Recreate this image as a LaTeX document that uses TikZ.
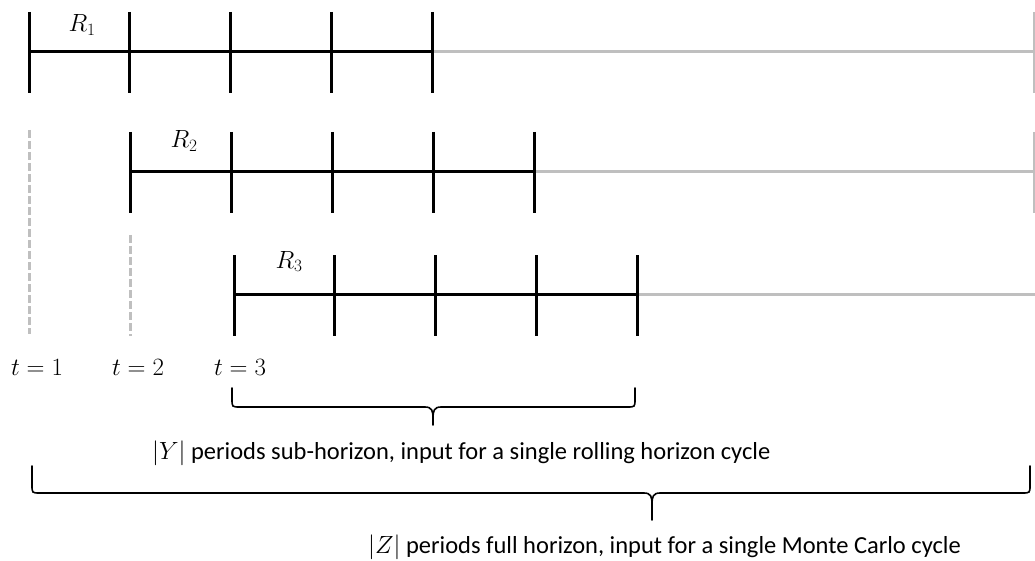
\documentclass[tikz,border=0pt]{standalone}
\usepackage{fontspec}
\setmainfont{Carlito}
\definecolor{restgray}{RGB}{191,191,191}
\begin{document}
\begin{tikzpicture}[x=1pt,y=-1pt,
  bar/.style={line width=3pt, black},
  rest/.style={line width=3pt, restgray},
  tickmark/.style={line width=3pt, black},
  endtick/.style={line width=1.5pt, restgray},
  guide/.style={line width=3pt, restgray, dash pattern=on 8pt off 3pt},
  brace/.style={line width=1.6pt, black, line cap=round},
  lbl/.style={font=\fontsize{24.5}{29}\selectfont, inner sep=0pt, anchor=base},
  mlbl/.style={font=\fontsize{25}{30}\selectfont, inner sep=0pt, anchor=base}]
\useasboundingbox (0,0) rectangle (1035,561);

% row 1
\draw[rest] (432,52) -- (1034,52);
\draw[endtick] (1034,12) -- (1034,93);
\draw[bar] (29,52) -- (432,52);
\foreach \x in {29,129.75,230.5,331.25,432} \draw[tickmark] (\x,12) -- (\x,93);
\node[mlbl] (r1) at (82,32) {$R_1$};

% row 2
\draw[guide] (29,130) -- (29,334);
\draw[rest] (534,172) -- (1034,172);
\draw[endtick] (1034,132) -- (1034,213);
\draw[bar] (130,172) -- (534,172);
\foreach \x in {130,231,332,433,534} \draw[tickmark] (\x,132) -- (\x,213);
\node[mlbl] (r2) at (184,148) {$R_2$};

% row 3
\draw[guide] (130,235) -- (130,336);
\draw[rest] (637,294) -- (1035,294);
\draw[bar] (234,294) -- (637,294);
\foreach \x in {234,334.75,435.5,536.25,637} \draw[tickmark] (\x,255) -- (\x,336);
\node[mlbl] (r3) at (289,268) {$R_3$};

% time labels
\node[mlbl] (t1) at (37,375) {$t=1$};
\node[mlbl] (t2) at (138,375) {$t=2$};
\node[mlbl] (t3) at (240,375) {$t=3$};

% brace 1
\draw[brace] (232,388) -- (232,399) .. controls (232,407) .. (240,407) -- (425,407)
  .. controls (432,407) and (433,411) .. (433,418) -- (433,425);
\draw[brace] (433,418) .. controls (433,411) and (434,407) .. (441,407) -- (627,407)
  .. controls (635,407) .. (635,399) -- (635,388);
\node[lbl, anchor=base west] (ylabel) at (152,459) {$|Y|$ periods sub-horizon, input for a single rolling horizon cycle};

% brace 2
\draw[brace] (32,466) -- (32,485) .. controls (32,493) .. (40,493) -- (644,493)
  .. controls (651,493) and (652,497) .. (652,504) -- (652,520);
\draw[brace] (652,504) .. controls (652,497) and (653,493) .. (660,493) -- (1022,493)
  .. controls (1030,493) .. (1030,485) -- (1030,466);
\node[lbl, anchor=base west] (zlabel) at (368,553) {$|Z|$ periods full horizon, input for a single Monte Carlo cycle};
\end{tikzpicture}
\end{document}
